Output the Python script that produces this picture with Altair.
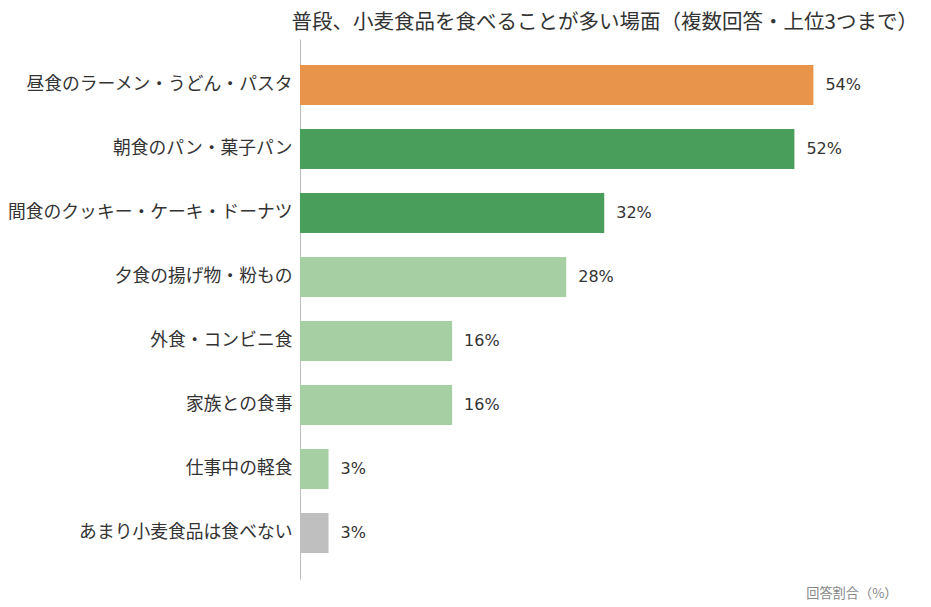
import altair as alt
import pandas as pd

categories = [
    "昼食のラーメン・うどん・パスタ",
    "朝食のパン・菓子パン",
    "間食のクッキー・ケーキ・ドーナツ",
    "夕食の揚げ物・粉もの",
    "外食・コンビニ食",
    "家族との食事",
    "仕事中の軽食",
    "あまり小麦食品は食べない",
]
values = [54, 52, 32, 28, 16, 16, 3, 3]
bar_colors = ["#E8954B", "#4A9E5C", "#4A9E5C", "#A6CFA4", "#A6CFA4", "#A6CFA4", "#A6CFA4", "#BFBFBF"]

title_text = "普段、小麦食品を食べることが多い場面（複数回答・上位3つまで）"
x_title = "回答割合（%）"

df = pd.DataFrame({"category": categories, "value": values})
df["label"] = df["value"].astype(str) + "%"

FONT = "Noto Sans CJK JP"

base = alt.Chart(df).encode(
    y=alt.Y(
        "category:N",
        sort=categories,
        scale=alt.Scale(paddingInner=0.375, paddingOuter=0.406),
        axis=alt.Axis(
            title=None,
            domain=True,
            domainColor="#BDBDBD",
            domainWidth=1,
            ticks=False,
            labelFont=FONT,
            labelFontSize=17.8,
            labelColor="#333333",
            labelPadding=8,
            labelLimit=400,
        ),
    ),
    x=alt.X(
        "value:Q",
        scale=alt.Scale(domain=[0, 65], nice=False),
        axis=alt.Axis(
            title=x_title,
            grid=False,
            domain=False,
            ticks=False,
            labels=False,
            titleFont=FONT,
            titleFontSize=13.2,
            titleFontWeight="normal",
            titleColor="#888888",
            titleAlign="right",
            titleAnchor="end",
            titleBaseline="middle",
            titleX=597,
            titleY=14,
        ),
    ),
)

bars = base.mark_bar().encode(
    color=alt.Color("category:N", scale=alt.Scale(domain=categories, range=bar_colors), legend=None)
)

labels = base.mark_text(align="left", baseline="middle", dx=12, font="DejaVu Sans", fontSize=16, color="#333333").encode(
    text="label:N"
)

chart = (
    alt.layer(bars, labels)
    .properties(
        width=618,
        height=540,
        autosize=alt.AutoSizeParams(type="none"),
        padding={"left": 292, "top": 31, "right": 5, "bottom": 30},
        title=alt.TitleParams(
            text=title_text,
            font=FONT,
            fontSize=20.5,
            fontWeight="normal",
            color="#333333",
            anchor="end",
            offset=6,
        ),
    )
    .configure(background="white", view=alt.ViewConfig(stroke="transparent", strokeWidth=0))
)

chart.save("out.html", embed_options={"renderer": "svg", "actions": False})
